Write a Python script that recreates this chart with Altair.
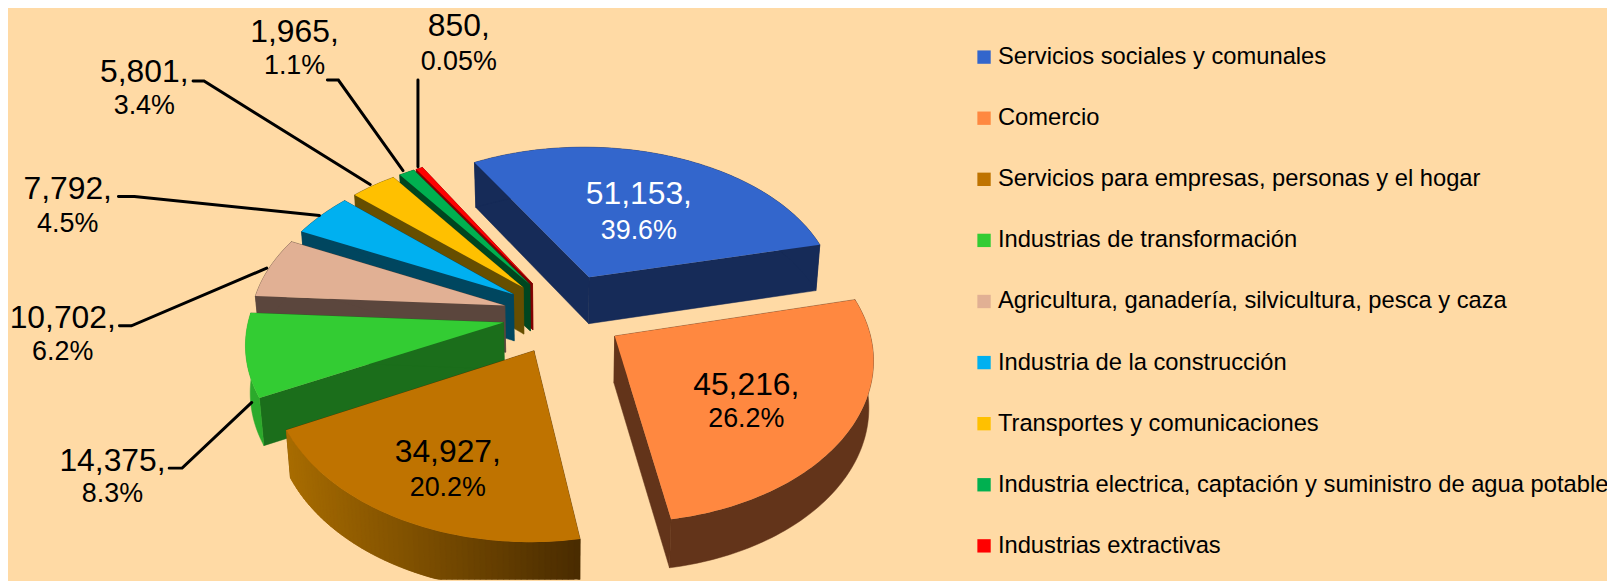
import math
import altair as alt

# ---- values
names = ["Servicios sociales y comunales", "Comercio", "Servicios para empresas, personas y el hogar",
         "Industrias de transformación", "Agricultura, ganadería, silvicultura, pesca y caza",
         "Industria de la construcción", "Transportes y comunicaciones",
         "Industria electrica, captación y suministro de agua potable", "Industrias extractivas"]
values = [51153, 45216, 34927, 14375, 10702, 7792, 5801, 1965, 850]
value_labels = ["51,153,", "45,216,", "34,927,", "14,375,", "10,702,", "7,792,", "5,801,", "1,965,", "850,"]
pct_labels = ["39.6%", "26.2%", "20.2%", "8.3%", "6.2%", "4.5%", "3.4%", "1.1%", "0.05%"]
top_colors = ["#3366CC", "#FF8840", "#BF7300", "#33CC33", "#E1B094", "#00B0F0", "#FFC000", "#00B050", "#FF0000"]
wall_colors = ["#162B58", "#63341A", "#4D2E00", "#1B6E1B", "#5B463D", "#00465F", "#664E00", "#004620", "#800000"]
rim_left = ["#162B58", "#63341A", "#A86C00", "#2BAA2B", "#5B463D", "#00465F", "#664E00", "#004620", "#800000"]
rim_right = ["#162B58", "#63341A", "#4A2C00", "#2BAA2B", "#5B463D", "#00465F", "#664E00", "#004620", "#800000"]

# ---- layout
BG = "#FFDAA5"
FONT = "Liberation Sans"
M = 8  # page margin
CX, CY = 566 - M, 315 - M
A, KY, PX, PY, SHEAR, ROLL = 254.0, 157.0, 0.12, 0.13, 5.0, 4.0
EXPLODE = [0.27, 0.24, 0.25, 0.24, 0.24, 0.24, 0.24, 0.24, 0.24]
DEPTH = 47.0
START = -31.5
label_xy = [(642, 194, 231), (750, 386, 420), (450, 453, 489), (113, 462, 495), (63, 318, 352),
            (68, 189, 224), (145, 71, 105), (296, 31, 65), (461, 25, 61)]
text_colors = ["white"] + ["black"] * 8
leaders = {
    3: [(170, 469), (183, 469), (253, 403)],
    4: [(120, 326), (132, 326), (268, 268)],
    5: [(119, 196), (135, 196), (321, 215)],
    6: [(194, 80), (205, 80), (372, 184)],
    7: [(329, 79), (340, 79), (405, 170)],
    8: [(420, 79), (420, 166)],
}


def top(u, v):
    return CX + A * u / (1 + PX * v) + SHEAR * v, CY - KY * v / (1 + PY * v) + ROLL * u


def bottom(u, v):
    x, y = top(u, v)
    return CX + (x - CX) * 0.985, y + DEPTH * (1 - 0.036 * v)


def feat(points, **props):
    ring = [list(p) for p in points]
    ring.append(ring[0])
    return {"type": "Feature", "geometry": {"type": "Polygon", "coordinates": [ring]}, "properties": props}


def mix(c1, c2, t):
    a = [int(c1[i:i + 2], 16) for i in (1, 3, 5)]
    b = [int(c2[i:i + 2], 16) for i in (1, 3, 5)]
    return "#%02x%02x%02x" % tuple(round(x + (y - x) * t) for x, y in zip(a, b))


total = sum(values)
slices = []
ang = START
for i, val in enumerate(values):
    sweep = val / total * 360
    t0, t1 = math.radians(ang), math.radians(ang + sweep)
    mid = (t0 + t1) / 2
    slices.append((t0, t1, EXPLODE[i] * math.sin(mid), EXPLODE[i] * math.cos(mid)))
    ang += sweep

walls, tops = [], []
# back-to-front painting order for the side walls
paint_order = [0, 8, 7, 6, 5, 4, 3, 1, 2]
for i in paint_order:
    t0, t1, ax, ay = slices[i]
    n = max(3, int((t1 - t0) * 50))
    arc = [(ax + math.sin(t0 + (t1 - t0) * j / n), ay + math.cos(t0 + (t1 - t0) * j / n)) for j in range(n + 1)]
    for end in (arc[0], arc[-1]):
        walls.append(feat([top(ax, ay), top(*end), bottom(*end), bottom(ax, ay)], color=wall_colors[i]))
    if rim_left[i] == rim_right[i]:
        walls.append(feat([top(*p) for p in arc] + [bottom(*p) for p in reversed(arc)], color=rim_left[i]))
    else:
        # strips overlap the next one, so no seams show; the shade follows the x position
        x0, x1 = top(*arc[0])[0], top(*arc[-1])[0]
        for j in range(n):
            a, b = arc[j], arc[min(j + 2, n)]
            col = mix(rim_right[i], rim_left[i], (top(*a)[0] - x0) / (x1 - x0))
            walls.append(feat([top(*a), top(*b), bottom(*b), bottom(*a)], color=col))
    tops.append(feat([top(ax, ay)] + [top(*p) for p in arc], name=names[i]))

proj = dict(type="identity", scale=1, translate=[0, 0])

wall_layer = alt.Chart(alt.Data(values=walls)).mark_geoshape(strokeWidth=0.5).encode(
    fill=alt.Fill("properties.color:N", scale=None),
    stroke=alt.Stroke("properties.color:N", scale=None),
).project(**proj)

top_layer = alt.Chart(alt.Data(values=tops)).mark_geoshape(strokeWidth=0).encode(
    fill=alt.Fill(
        "properties.name:N",
        scale=alt.Scale(domain=names, range=top_colors),
        sort=names,
        legend=alt.Legend(
            title=None, orient="none", legendX=977 - M, legendY=36, symbolType="square", symbolSize=180,
            symbolStrokeWidth=0, labelFont=FONT, labelFontSize=23.85, labelColor="black", labelLimit=700,
            labelOffset=2, rowPadding=36.4, padding=0,
        ),
    ),
).project(**proj)

leader_rows = []
for i, pts in leaders.items():
    for o, (x, y) in enumerate(pts):
        leader_rows.append({"id": i, "o": o, "x": x - M, "y": y - M})
leader_layer = alt.Chart(alt.Data(values=leader_rows)).mark_line(color="black", strokeWidth=3, strokeCap="round").encode(
    x=alt.X("x:Q", scale=None, axis=None),
    y=alt.Y("y:Q", scale=None, axis=None),
    detail="id:N",
    order="o:Q",
)

text_rows = []
for i in range(len(values)):
    x, y1, y2 = label_xy[i]
    text_rows.append({"x": x - M, "y": y1 - M, "t": value_labels[i], "c": text_colors[i], "s": "big"})
    text_rows.append({"x": x - M, "y": y2 - M, "t": pct_labels[i], "c": text_colors[i], "s": "small"})


def text_layer(kind, size):
    rows = [r for r in text_rows if r["s"] == kind]
    return alt.Chart(alt.Data(values=rows)).mark_text(font=FONT, fontSize=size, align="center", baseline="middle").encode(
        x=alt.X("x:Q", scale=None, axis=None),
        y=alt.Y("y:Q", scale=None, axis=None),
        text="t:N",
        color=alt.Color("c:N", scale=None),
    )


chart = alt.layer(
    wall_layer, top_layer, leader_layer, text_layer("big", 32), text_layer("small", 27)
).properties(
    width=1607, height=573, background=BG, padding=0,
    autosize=alt.AutoSizeParams(type="none"),
).configure_view(stroke=None)

chart.save("out.html", embed_options={"renderer": "svg", "actions": False})
